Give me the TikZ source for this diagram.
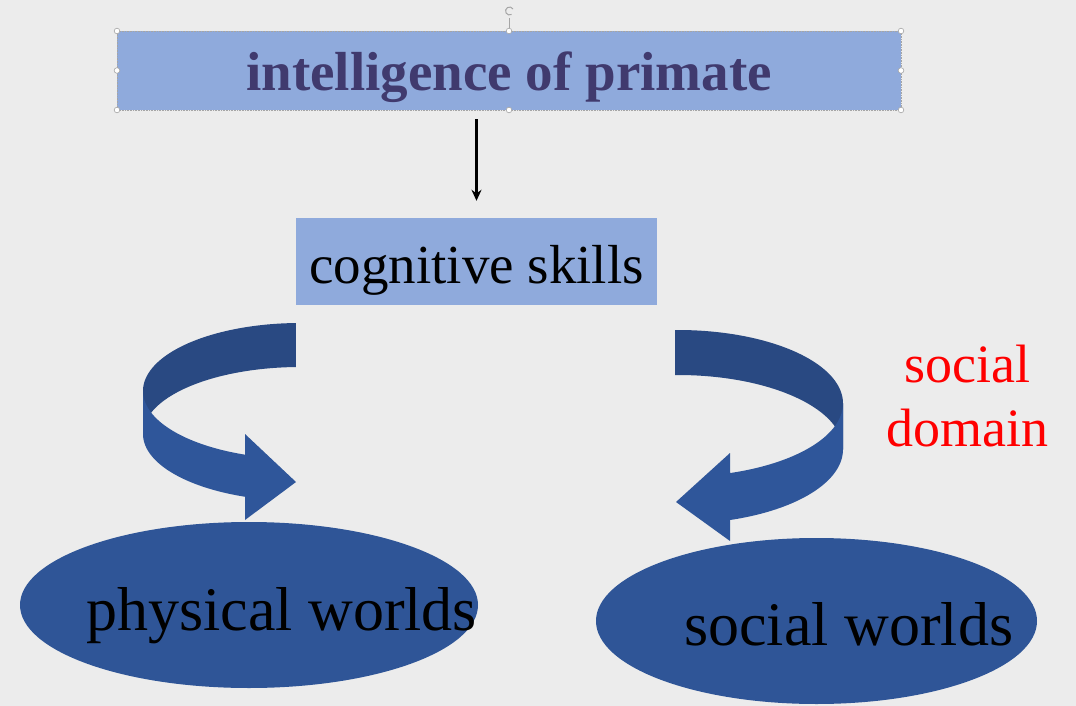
\documentclass[tikz,border=0pt]{standalone}
\usepackage{fontspec}
\setmainfont{Liberation Serif}
\usetikzlibrary{shapes.geometric,arrows.meta}

\definecolor{paper}{RGB}{236,236,236}
\definecolor{boxblue}{RGB}{143,170,220}
\definecolor{titleink}{RGB}{64,58,110}
\definecolor{bandDark}{RGB}{41,73,130}
\definecolor{bandLight}{RGB}{47,86,154}
\definecolor{worldblue}{RGB}{47,85,151}
\definecolor{handlegray}{RGB}{165,165,165}
\definecolor{domainred}{RGB}{255,0,0}

\begin{document}
\begin{tikzpicture}[x=1pt,y=-1pt,
  titlebox/.style={fill=boxblue, draw=handlegray, densely dotted, line width=0.6pt,
    minimum width=784pt, minimum height=79pt, inner sep=0pt,
    font=\fontsize{55pt}{60pt}\selectfont\bfseries, text=titleink,
    text height=41pt, text depth=0pt},
  cogbox/.style={fill=boxblue, minimum width=361pt, minimum height=87pt, inner sep=0pt,
    font=\fontsize{55pt}{60pt}\selectfont, text=black,
    text height=43pt, text depth=0pt},
  world/.style={ellipse, fill=worldblue, inner sep=0pt},
  worldtext/.style={inner sep=0pt, font=\fontsize{62pt}{66pt}\selectfont, text=black},
  domaintext/.style={inner sep=0pt, align=center, text=domainred,
    font=\fontsize{54pt}{64pt}\selectfont},
  handle/.style={draw=handlegray, fill=white, line width=0.6pt},
  link/.style={-{Stealth[length=11pt,width=10pt]}, line width=2.4pt, black}
]
% page
\useasboundingbox (0,0) rectangle (1076,706);
\fill[paper] (0,0) rectangle (1076,706);

% title box with its selection frame
\node[titlebox] (title) at (509,70.5) {intelligence of primate};
\foreach \hx/\hy in {117/31,509/31,901/31,117/70.5,901/70.5,117/110,509/110,901/110}
  \draw[handle] (\hx,\hy) circle (2.8pt);
\draw[handlegray, line width=0.7pt] (509,18) -- (509,28);
\draw[handlegray, line width=1pt] (513,9) arc[start angle=30, end angle=300, radius=4pt];

% second level
\node[cogbox] (cog) at (476.5,261.5) {cognitive skills};
\draw[link, shorten <=9pt, shorten >=17pt] (title.south -| cog.north) -- (cog.north);

% bottom level
\node[world, minimum width=458pt, minimum height=166pt] (phys) at (249,605) {};
\node[worldtext, anchor=base west] (physlabel) at (86,630) {physical worlds};
\node[world, minimum width=441pt, minimum height=166pt] (soc) at (816.5,621) {};
\node[worldtext, anchor=base west] (soclabel) at (684,645) {social worlds};

\node[domaintext] (domain) at (967,396.5) {social\\domain};

% left ribbon arrow: a band seen from above, upper rim y=391, lower rim y=434
\fill[bandDark]
  plot[domain=268.5:180, samples=60, variable=\t] ({300+157*cos(\t)},{391+68*sin(\t)})
  -- plot[domain=180:268.5, samples=60, variable=\t] ({300+157*cos(\t)},{434+67*sin(\t)})
  -- cycle;
\fill[bandLight]
  plot[domain=180:110.5, samples=60, variable=\t] ({300+157*cos(\t)},{434+67*sin(\t)})
  -- (245,520) -- (296,482) -- (245,434)
  -- plot[domain=110.5:180, samples=60, variable=\t] ({300+157*cos(\t)},{391+68*sin(\t)})
  -- cycle;

% right ribbon arrow: upper rim y=403.4, lower rim y=449.4
\fill[bandDark]
  plot[domain=-91:0, samples=60, variable=\t] ({678+165*cos(\t)},{403.4+73.4*sin(\t)})
  -- plot[domain=0:-91, samples=60, variable=\t] ({678+165*cos(\t)},{449.4+74.4*sin(\t)})
  -- cycle;
\fill[bandLight]
  plot[domain=0:71.6, samples=60, variable=\t] ({678+165*cos(\t)},{449.4+74.4*sin(\t)})
  -- (730,541) -- (676,502) -- (730,453)
  -- plot[domain=71.6:0, samples=60, variable=\t] ({678+165*cos(\t)},{403.4+73.4*sin(\t)})
  -- cycle;
\end{tikzpicture}
\end{document}
